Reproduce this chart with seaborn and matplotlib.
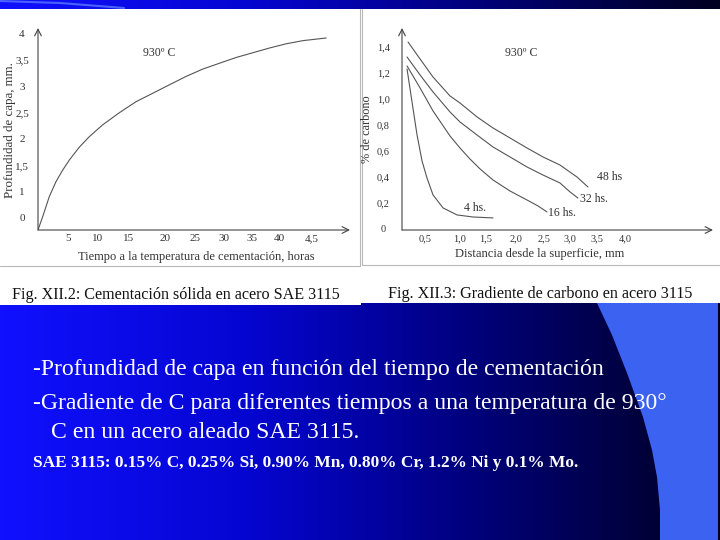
import numpy as np
import pandas as pd
import matplotlib
matplotlib.use('Agg')
import matplotlib.pyplot as plt
import seaborn as sns
from matplotlib.colors import LinearSegmentedColormap
from matplotlib.patches import Rectangle, Polygon

# Fig. XII.2: case depth vs. carburizing time (930 C)
hours = [0, 0.77, 1.85, 2.95, 4.05, 5.13, 6.77, 8.41, 10.6, 13.33, 16.07, 18.8, 21.52,
         24.26, 27.0, 29.72, 32.46, 35.2, 37.92, 40.66, 43.4, 47.2]
depth = [0.27, 0.525, 0.905, 1.19, 1.41, 1.60, 1.845, 2.045, 2.27, 2.50, 2.71, 2.87, 3.03,
         3.19, 3.33, 3.44, 3.55, 3.64, 3.73, 3.81, 3.87, 3.92]
time_ticks = [4.9, 9.8, 14.9, 20.8, 25.7, 30.5, 35.1, 39.5, 44.9]
time_labels = ['5', '10', '15', '20', '25', '30', '35', '40', '4,5']
depth_ticks = [0.5, 1, 1.5, 2, 2.5, 3, 3.5, 4]
depth_labels = ['0', '1', '1,5', '2', '2,5', '3', '3,5', '4']

# Fig. XII.3: carbon gradient for several times
dist_48 = [0.200, 0.412, 0.641, 0.942, 1.118, 1.419, 1.701, 2.002, 2.302, 2.585, 2.885, 3.185, 3.380]
carb_48 = [1.438, 1.308, 1.169, 1.023, 0.969, 0.862, 0.777, 0.700, 0.623, 0.554, 0.492, 0.400, 0.323]
dist_32 = [0.182, 0.412, 0.641, 0.942, 1.118, 1.419, 1.701, 2.002, 2.302, 2.585, 2.885, 3.062, 3.203]
carb_32 = [1.323, 1.185, 1.054, 0.900, 0.823, 0.723, 0.631, 0.554, 0.477, 0.415, 0.354, 0.285, 0.238]
dist_16 = [0.182, 0.412, 0.641, 0.942, 1.118, 1.295, 1.472, 1.701, 2.002, 2.302, 2.497, 2.656]
carb_16 = [1.254, 1.085, 0.908, 0.715, 0.623, 0.538, 0.462, 0.377, 0.292, 0.223, 0.177, 0.131]
dist_4 = [0.182, 0.270, 0.359, 0.447, 0.535, 0.641, 0.818, 1.065, 1.348, 1.701]
carb_4 = [1.231, 0.977, 0.723, 0.523, 0.392, 0.262, 0.162, 0.108, 0.092, 0.085]
series = ['48 hs', '32 hs.', '16 hs.', '4 hs.']
label_x = [3.54, 3.24, 2.68, 1.38]
label_y = [0.40, 0.23, 0.12, 0.16]
dist_ticks = [0.5, 1.11, 1.58, 2.11, 2.60, 3.06, 3.54, 4.04]
dist_labels = ['0,5', '1,0', '1,5', '2,0', '2,5', '3,0', '3,5', '4,0']
carb_ticks = [0, 0.2, 0.4, 0.6, 0.8, 1.0, 1.2, 1.4]
carb_labels = ['0', '0,2', '0,4', '0,6', '0,8', '1,0', '1,2', '1,4']

bullets = ['-Profundidad de capa en función del tiempo de cementación',
           '-Gradiente de C para diferentes tiempos a una temperatura de 930°',
           '   C en un acero aleado SAE 3115.']
composition = 'SAE 3115: 0.15% C, 0.25% Si, 0.90% Mn, 0.80% Cr, 1.2% Ni y 0.1% Mo.'

sns.set_theme(style='white')
plt.rcParams['font.family'] = ['Liberation Serif', 'DejaVu Serif']

fig = plt.figure(figsize=(7.2, 5.4), dpi=100)

# slide background
bg = fig.add_axes([0, 0, 1, 1], zorder=0)
bg.set_xlim(0, 720)
bg.set_ylim(540, 0)
bg.axis('off')
grad = LinearSegmentedColormap.from_list(
    'slide', [(0.0, '#1010ff'), (0.35, '#0505d0'), (0.7, '#000070'), (0.92, '#000035'), (1.0, '#000020')])
bg.imshow(np.linspace(0, 1, 720)[None, :], cmap=grad, aspect='auto', extent=(0, 720, 540, 0))
bg.plot([0, 60, 124], [1, 3, 8], color='#5a78ff', lw=1.5, alpha=0.8)
swoosh = [(597, 303), (612, 335), (627, 373), (643, 417), (652, 450), (657, 477), (660, 510), (660, 540),
          (718, 540), (718, 303)]
bg.add_patch(Polygon(swoosh, closed=True, color='#3c62f2', lw=0))
# scanned figure panels
bg.add_patch(Rectangle((0, 9), 720, 294, color='white', lw=0))
bg.add_patch(Rectangle((0, 300), 361, 5, color='white', lw=0))
bg.plot([0, 360, 360], [266, 266, 9], color='#b8b8b8', lw=0.8)
bg.plot([362, 362, 720], [9, 265, 265], color='#b8b8b8', lw=0.8)
bg.text(12, 295, 'Fig. XII.2: Cementación sólida en acero SAE 3115', fontsize=11.6, color='#111', va='center')
bg.text(388, 294, 'Fig. XII.3: Gradiente de carbono en acero 3115', fontsize=11.6, color='#111', va='center')
for i, line in enumerate(bullets):
    bg.text(33, [369, 404, 433][i], line, fontsize=17.1, color='white', va='center')
bg.text(33, 463, composition, fontsize=12.4, color='white', va='center', fontweight='bold')

text_c = '#333333'
line_c = '#555555'


def style_axes(ax):
    ax.set_facecolor('none')
    for s in ax.spines.values():
        s.set_visible(False)
    ax.tick_params(length=0, labelcolor=text_c)
    ax.annotate('', xy=(1, 0), xytext=(0, 0), xycoords='axes fraction',
                arrowprops=dict(arrowstyle='->', lw=0.8, color='#444444', shrinkA=0, shrinkB=0))
    ax.annotate('', xy=(0, 1), xytext=(0, 0), xycoords='axes fraction',
                arrowprops=dict(arrowstyle='->', lw=0.8, color='#444444', shrinkA=0, shrinkB=0))


# left chart
ax1 = fig.add_axes([38 / 720, 1 - 230 / 540, 312 / 720, 202 / 540], zorder=2)
sns.lineplot(x=hours, y=depth, ax=ax1, color=line_c, lw=0.8, sort=False, estimator=None)
ax1.set_xlim(0, 51.1)
ax1.set_ylim(0.27, 4.11)
ax1.set_xticks(time_ticks, time_labels)
ax1.set_yticks(depth_ticks, depth_labels)
style_axes(ax1)
ax1.tick_params(axis='both', labelsize=8)
ax1.tick_params(axis='y', pad=11.5)
ax1.tick_params(axis='x', pad=3)
for t in ax1.get_yticklabels():
    t.set_ha('center')
ax1.text(17.2, 3.64, '930º C', fontsize=8.5, color=text_c, va='center')
fig.text(10 / 720, 1 - 130 / 540, 'Profundidad de capa, mm.', rotation=90, fontsize=9.3,
         color=text_c, ha='center', va='center', zorder=3)
fig.text(196 / 720, 1 - 257 / 540, 'Tiempo a la temperatura de cementación, horas', fontsize=9,
         color=text_c, ha='center', va='center', zorder=3)

# right chart
frames = []
for name, d, c in zip(series, [dist_48, dist_32, dist_16, dist_4], [carb_48, carb_32, carb_16, carb_4]):
    frames.append(pd.DataFrame({'dist': d, 'carbon': c, 'time': name}))
df = pd.concat(frames, ignore_index=True)

ax2 = fig.add_axes([402 / 720, 1 - 230 / 540, 311 / 720, 202 / 540], zorder=2)
sns.lineplot(data=df, x='dist', y='carbon', hue='time', palette=[line_c] * 4, lw=0.8,
             sort=False, estimator=None, legend=False, ax=ax2)
ax2.set_xlim(0.093, 5.59)
ax2.set_ylim(-0.008, 1.546)
ax2.set_xticks(dist_ticks, dist_labels)
ax2.set_yticks(carb_ticks, carb_labels)
ax2.set_xlabel('')
ax2.set_ylabel('')
style_axes(ax2)
ax2.tick_params(axis='both', labelsize=7.5)
ax2.tick_params(axis='y', pad=13.5)
ax2.tick_params(axis='x', pad=3)
for t in ax2.get_yticklabels():
    t.set_ha('center')
for name, lx, ly in zip(series, label_x, label_y):
    ax2.text(lx, ly, name, fontsize=8.5, color=text_c, va='center',
             ha='center' if name == '4 hs.' else 'left')
ax2.text(1.91, 1.35, '930º C', fontsize=8.5, color=text_c, va='center')
fig.text(367 / 720, 1 - 129 / 540, '% de carbono', rotation=90, fontsize=8.8,
         color=text_c, ha='center', va='center', zorder=3)
fig.text(540 / 720, 1 - 254 / 540, 'Distancia desde la superficie, mm', fontsize=9,
         color=text_c, ha='center', va='center', zorder=3)

fig.savefig('out.png', dpi=100)
